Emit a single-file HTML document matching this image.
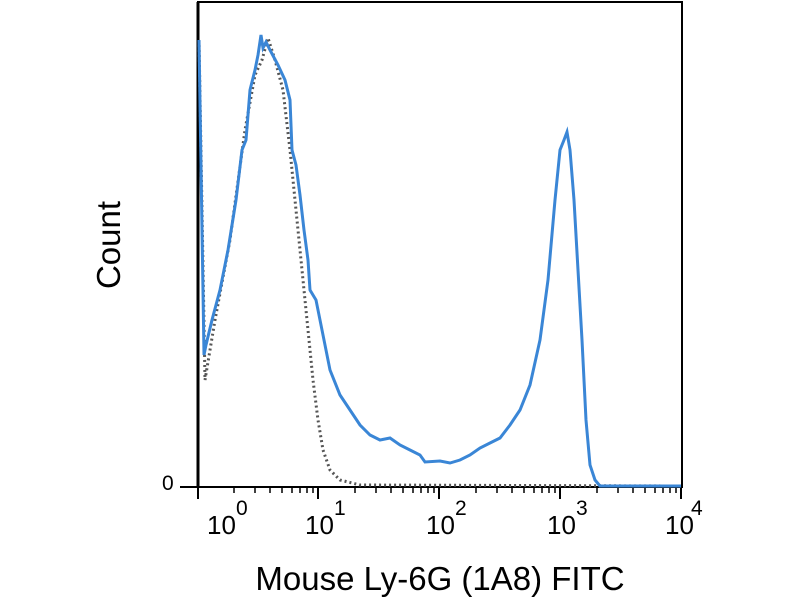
<!DOCTYPE html>
<html><head><style>body{margin:0;background:#fff}</style></head><body>
<svg width="800" height="600" xmlns="http://www.w3.org/2000/svg" font-family="Liberation Sans, sans-serif">
<rect x="198" y="2" width="484" height="485" fill="none" stroke="#000" stroke-width="2"/>
<line x1="198" y1="2" x2="198" y2="487" stroke="#000" stroke-width="3"/>
<line x1="180" y1="487" x2="682" y2="487" stroke="#000" stroke-width="2"/>
<g stroke="#000" stroke-width="2">
<line x1="198" y1="487" x2="198" y2="499"/><line x1="318" y1="487" x2="318" y2="499"/><line x1="439" y1="487" x2="439" y2="499"/><line x1="560" y1="487" x2="560" y2="499"/><line x1="681" y1="487" x2="681" y2="499"/>
</g>
<g stroke="#000" stroke-width="1.5">
<path d="M234 487v6M255 487v6M270 487v6M282 487v6M292 487v6M300 487v6M307 487v6M313 487v6M355 487v6M376 487v6M391 487v6M403 487v6M413 487v6M421 487v6M428 487v6M434 487v6M476 487v6M497 487v6M512 487v6M524 487v6M534 487v6M542 487v6M549 487v6M555 487v6M597 487v6M618 487v6M633 487v6M645 487v6M655 487v6M663 487v6M670 487v6M676 487v6"/>
</g>
<g font-size="26" fill="#000">
<text x="207" y="534">10</text><text x="236" y="515" font-size="21">0</text>
<text x="305" y="534">10</text><text x="334" y="515" font-size="21">1</text>
<text x="426" y="534">10</text><text x="455" y="515" font-size="21">2</text>
<text x="547" y="534">10</text><text x="576" y="515" font-size="21">3</text>
<text x="665" y="534">10</text><text x="691" y="515" font-size="21">4</text>
<text x="162" y="490" font-size="21">0</text>
</g>
<text x="440" y="590" font-size="33" text-anchor="middle">Mouse Ly-6G (1A8) FITC</text>
<text transform="translate(120,245) rotate(-90)" font-size="33" text-anchor="middle">Count</text>
<polyline fill="none" stroke="#555" stroke-width="3" stroke-dasharray="2,3" points="199,40 205,380 215,320 230,240 245,130 255,75 262,60 268,38 275,60 283,90 290,150 296,210 302,270 308,330 313,380 318,420 323,450 330,470 340,480 360,485 681,486"/>
<polyline fill="none" stroke="#3a86d6" stroke-width="3" points="199,40 204,355 206,345 212,320 220,290 228,250 236,200 242,150 246,140 250,90 255,70 258,55 261,35 263,48 266,42 270,50 278,65 285,80 290,100 292,150 296,165 300,195 304,230 308,260 310,290 316,300 320,320 325,345 330,370 340,395 350,410 360,425 370,435 380,440 390,438 400,445 410,450 420,455 425,462 440,461 450,463 460,460 470,455 480,448 490,443 500,438 510,425 520,410 530,385 540,340 548,280 555,200 560,150 564,140 567,132 570,150 574,200 578,270 582,340 586,420 590,465 595,480 600,486 681,486"/>
</svg>
</body></html>
